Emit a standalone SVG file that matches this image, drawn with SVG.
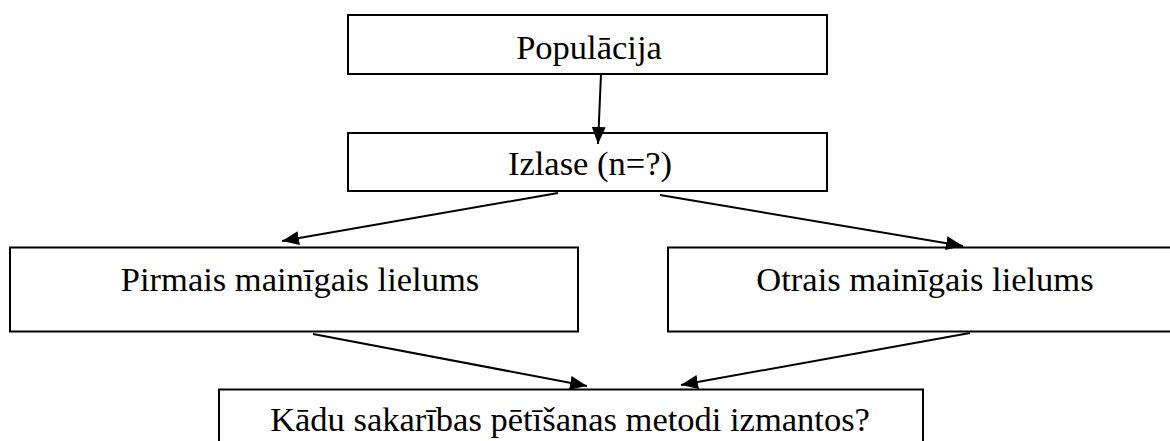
<svg xmlns="http://www.w3.org/2000/svg" width="1170" height="441" viewBox="0 0 1170 441">
<style>
.box{fill:#fff;stroke:#000;stroke-width:2}
.lbl{font-family:'Liberation Serif','Times New Roman','DejaVu Serif',serif;font-size:34.5px;fill:#000;text-anchor:middle}
.edge{stroke:#000;stroke-width:2;fill:none;marker-end:url(#ah)}
</style>
<defs>
<marker id="ah" markerUnits="userSpaceOnUse" markerWidth="20" markerHeight="16" refX="17" refY="7" orient="auto">
<path d="M0,0 L17,7 L0,14 z" fill="#000"/>
</marker>
</defs>
<rect width="1170" height="441" fill="#fff"/>
<g id="populacija">
<rect class="box" x="348" y="15" width="479" height="59"/>
<text class="lbl" x="589" y="59">Populācija</text>
</g>
<g id="izlase">
<rect class="box" x="348" y="133" width="479" height="58"/>
<text class="lbl" x="590" y="175">Izlase (n=?)</text>
</g>
<g id="pirmais">
<rect class="box" x="10" y="247.5" width="568" height="84"/>
<text class="lbl" x="300" y="291">Pirmais mainīgais lielums</text>
</g>
<g id="otrais">
<rect class="box" x="668" y="247.5" width="510" height="84"/>
<text class="lbl" x="925" y="291">Otrais mainīgais lielums</text>
</g>
<g id="metodes">
<rect class="box" x="219" y="389.5" width="704" height="60"/>
<text class="lbl" x="570" y="431">Kādu sakarības pētīšanas metodi izmantos?</text>
</g>
<g id="connectors">
<line class="edge" x1="601" y1="74" x2="598" y2="144"/>
<line class="edge" x1="558" y1="193" x2="282" y2="241"/>
<line class="edge" x1="660" y1="195" x2="963" y2="246"/>
<line class="edge" x1="313" y1="334" x2="587" y2="386"/>
<line class="edge" x1="970" y1="333" x2="681" y2="385"/>
</g>
</svg>
